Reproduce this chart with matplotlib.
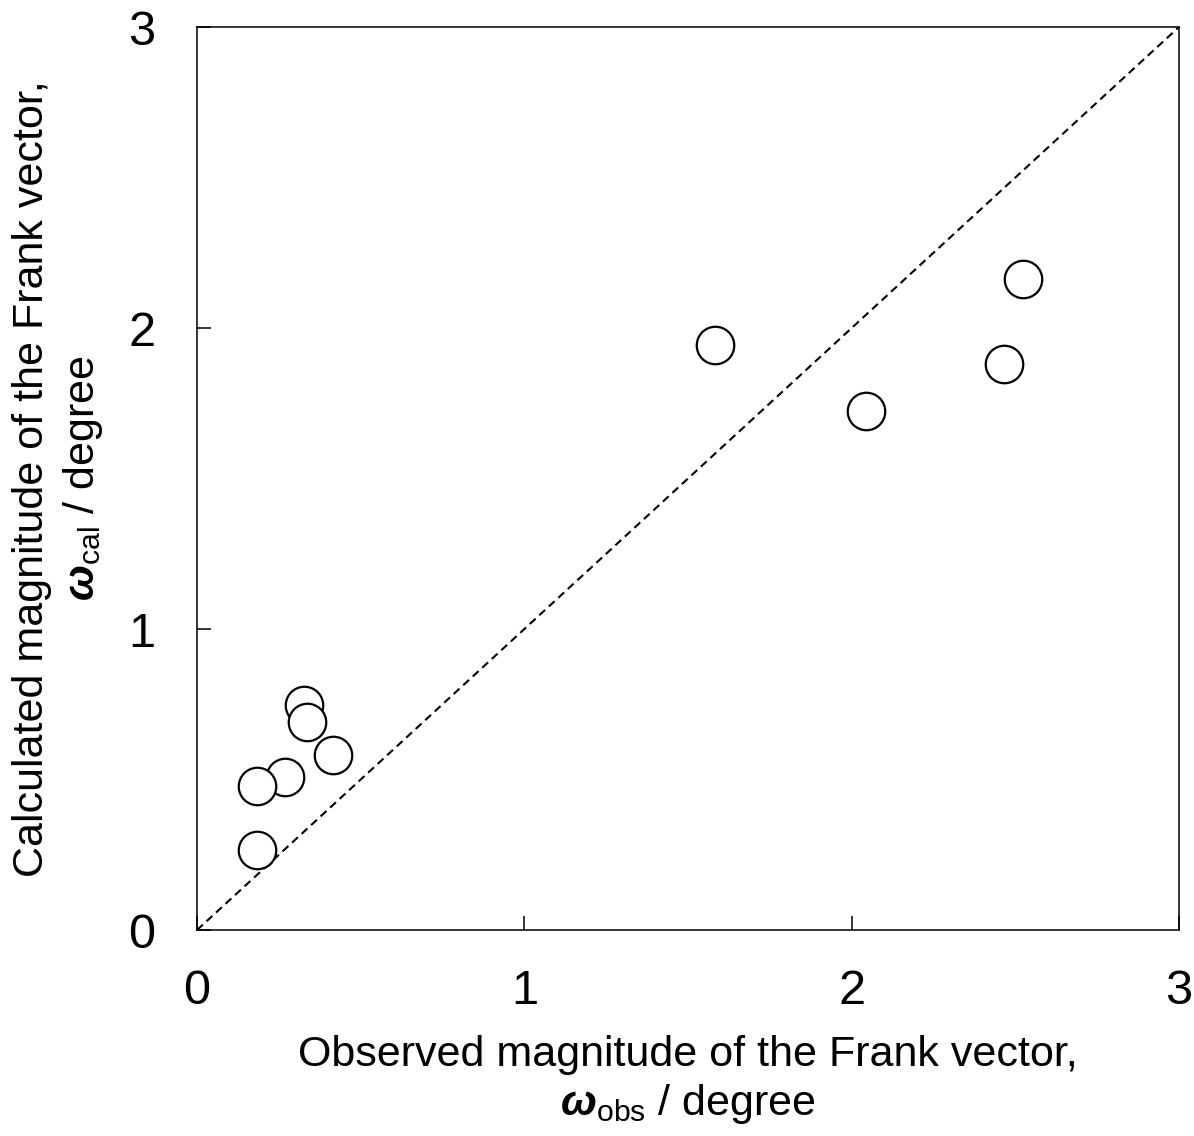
import matplotlib
matplotlib.use("Agg")
import matplotlib.pyplot as plt

plt.rcParams['font.family'] = ['Liberation Sans', 'DejaVu Sans']
plt.rcParams['mathtext.fontset'] = 'custom'
plt.rcParams['mathtext.rm'] = 'Liberation Sans'
plt.rcParams['mathtext.it'] = 'Liberation Sans:italic'
plt.rcParams['mathtext.bf'] = 'Liberation Sans:bold'
plt.rcParams['mathtext.bfit'] = 'Liberation Sans:italic:bold'

# Frank vector magnitudes (degree)
omega_obs = [1.583, 2.044, 2.466, 2.524, 0.327, 0.336, 0.416, 0.269, 0.183, 0.183]
omega_cal = [1.944, 1.724, 1.880, 2.163, 0.748, 0.691, 0.581, 0.508, 0.478, 0.266]
ticks = [0, 1, 2, 3]

fig = plt.figure(figsize=(11.94, 11.36), dpi=100)
ax = fig.add_axes([0.165, 0.1813, 0.8224, 0.7949])

ax.plot([0, 3], [0, 3], color='black', lw=1.5, linestyle=(0, (3.8, 2.4)), zorder=1)
for xo, yc in zip(omega_obs, omega_cal):
    ax.plot(xo, yc, 'o', ms=27, mfc='white', mec='black', mew=1.6, zorder=3)

ax.set_xlim(0, 3)
ax.set_ylim(0, 3)
ax.set_xticks(ticks)
ax.set_yticks(ticks)
ax.tick_params(direction='in', length=10, width=1.1, labelsize=35)
ax.tick_params(axis='x', pad=28)
ax.tick_params(axis='y', pad=30)
for s in ax.spines.values():
    s.set_linewidth(1.1)

ax.set_xlabel("Observed magnitude of the Frank vector,\n"
              r"$\mathbfit{\omega}_{\mathrm{obs}}$ / degree",
              fontsize=31, labelpad=15, linespacing=1.22)
ax.set_ylabel("Calculated magnitude of the Frank vector,\n"
              r"$\mathbfit{\omega}_{\mathrm{cal}}$ / degree",
              fontsize=31, labelpad=17, linespacing=1.25)

fig.savefig("out.png", dpi=100)
